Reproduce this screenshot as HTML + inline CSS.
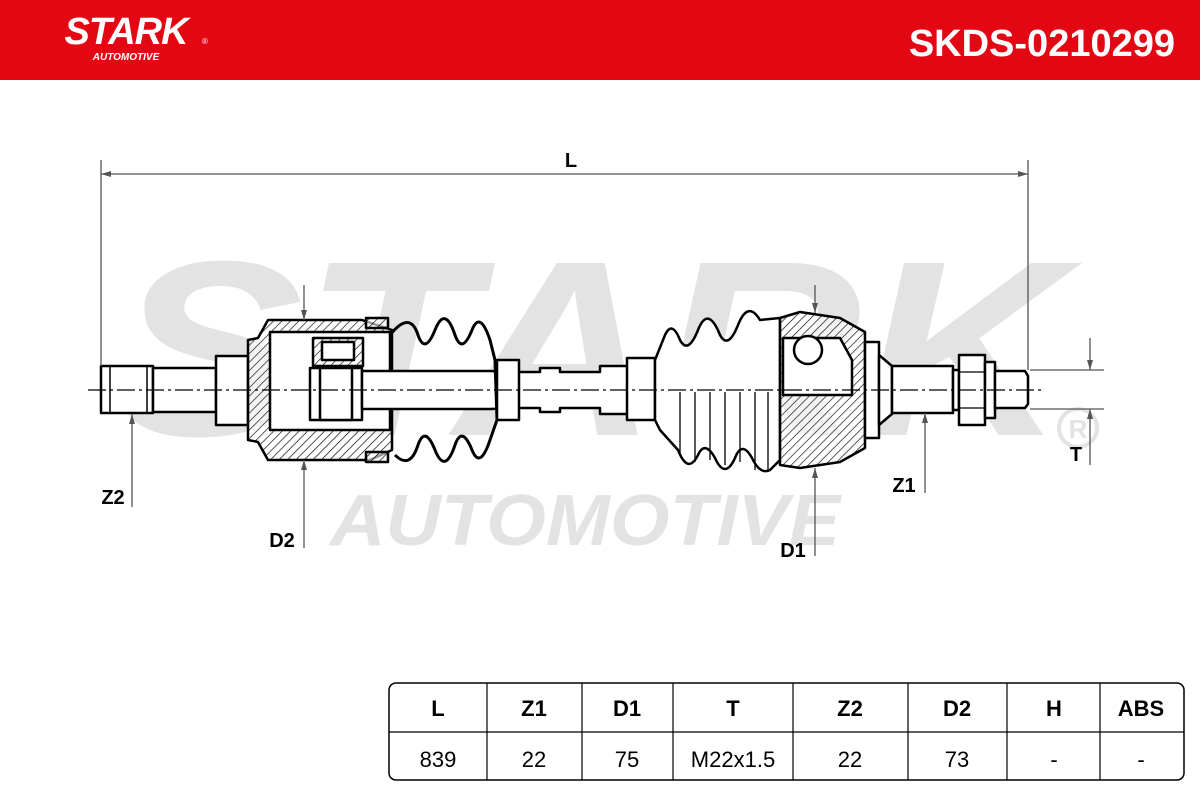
<!DOCTYPE html>
<html><head><meta charset="utf-8"><style>
html,body{margin:0;padding:0;background:#fff;}
body{width:1200px;height:800px;overflow:hidden;position:relative;font-family:"Liberation Sans",sans-serif;}
</style></head><body>
<svg width="1200" height="800" viewBox="0 0 1200 800" xmlns="http://www.w3.org/2000/svg" font-family="Liberation Sans, sans-serif">
<defs>
<pattern id="h" width="6" height="6" patternUnits="userSpaceOnUse" patternTransform="rotate(45)">
<rect width="6" height="6" fill="#fff" fill-opacity="0.6"/><line x1="0" y1="0" x2="0" y2="6" stroke="#000" stroke-width="1.3"/></pattern>
</defs>
<rect x="0" y="0" width="1200" height="80" fill="#e30613"/>
<text x="126" y="44" fill="#fff" font-size="38" font-weight="bold" font-style="italic" text-anchor="middle" letter-spacing="-1">STARK</text>
<text x="202" y="44" fill="#fff" font-size="8">®</text>
<text x="126" y="60" fill="#fff" font-size="10" font-weight="bold" font-style="italic" text-anchor="middle">AUTOMOTIVE</text>
<text x="1175" y="56" fill="#fff" font-size="38" font-weight="bold" text-anchor="end">SKDS-0210299</text>

<!-- watermark -->
<text x="590" y="435" fill="#e3e3e3" font-size="250" font-weight="bold" font-style="italic" text-anchor="middle" textLength="950" lengthAdjust="spacingAndGlyphs">STARK</text>
<text x="585" y="545" fill="#e3e3e3" font-size="72" font-weight="bold" font-style="italic" text-anchor="middle" textLength="510" lengthAdjust="spacingAndGlyphs">AUTOMOTIVE</text>
<circle cx="1078" cy="428" r="19" fill="none" stroke="#e3e3e3" stroke-width="4"/>
<text x="1078" y="438" fill="#e3e3e3" font-size="26" font-weight="bold" text-anchor="middle">R</text>

<g stroke="#000" stroke-width="2.5" fill="#fff" stroke-linejoin="round">
<!-- left stub -->
<rect x="101" y="366" width="52" height="47"/>
<line x1="110" y1="367" x2="110" y2="412" stroke-width="1.5"/>
<line x1="147" y1="367" x2="147" y2="412" stroke-width="1.5"/>
<rect x="153" y="368" width="63" height="44"/>
<rect x="216" y="356" width="32" height="69"/>
<!-- left housing -->
<path d="M248 340 L258 338 L268 320 L362 320 L392 330 L392 450 L370 460 L268 460 L258 442 L248 440 Z" fill="url(#h)"/>
<path d="M270 332 L390 332 L390 430 L270 430 Q270 430 270 415 L270 345 Z" fill="#fff"/>
<!-- spider -->
<rect x="313" y="338" width="50" height="28" fill="url(#h)"/>
<rect x="322" y="342" width="32" height="18"/>
<rect x="310" y="368" width="52" height="52"/>
<rect x="320" y="368" width="32" height="52" fill="#fff"/>
<!-- center shaft -->
<path d="M362 371 L490 371 L520 372 L540 372 L540 368 L560 368 L560 372 L600 372 L600 366 L630 366 L630 414 L600 414 L600 408 L560 408 L560 412 L540 412 L540 408 L520 408 L490 409 L362 409 Z"/>
<!-- left boot -->
<path d="M390 335 Q410 310 418 335 Q425 355 435 330 Q445 305 455 335 Q462 355 472 330 Q480 310 490 340 L495 360 L497 420 L490 440 Q480 470 472 450 Q462 425 455 445 Q445 475 435 450 Q425 425 418 445 Q410 470 395 455" fill="none" stroke-width="3"/>
<rect x="497" y="360" width="22" height="60"/>
<rect x="366" y="318" width="22" height="10" fill="url(#h)"/>
<rect x="366" y="452" width="22" height="10" fill="url(#h)"/>
<!-- right bands -->
<rect x="627" y="358" width="28" height="62"/>
<!-- right boot -->
<path d="M655 360 L665 335 Q672 320 680 340 Q688 355 698 330 Q708 305 720 335 Q728 350 738 325 Q748 300 760 320 L780 318 L780 460 L770 470 Q760 475 752 458 Q742 440 735 458 Q725 480 715 458 Q705 440 698 455 Q688 475 678 450 L660 430 L655 420 Z"/>
<g stroke-width="1.3"><line x1="680" y1="392" x2="680" y2="455"/><line x1="695" y1="392" x2="695" y2="462"/><line x1="710" y1="392" x2="710" y2="460"/><line x1="725" y1="392" x2="725" y2="465"/><line x1="740" y1="392" x2="740" y2="462"/><line x1="755" y1="392" x2="755" y2="470"/><line x1="768" y1="392" x2="768" y2="470"/></g>
<!-- outer joint -->
<path d="M780 318 L800 312 L840 318 L865 332 L865 448 L840 462 L800 468 L780 465 Z" fill="url(#h)"/>
<path d="M783 338 L840 338 L852 360 L852 395 L783 395 Z" fill="#fff"/>
<circle cx="808" cy="350" r="14"/>
<rect x="865" y="342" width="14" height="96"/>
<path d="M879 355 L892 366 L892 414 L879 425 Z"/>
<rect x="892" y="366" width="61" height="47"/>
<rect x="953" y="370" width="6" height="40"/>
<rect x="959" y="355" width="26" height="70"/>
<line x1="959" y1="372" x2="985" y2="372" stroke-width="1.3"/><line x1="959" y1="408" x2="985" y2="408" stroke-width="1.3"/>
<rect x="985" y="362" width="10" height="56"/>
<path d="M995 371 L1025 371 L1028 376 L1028 404 L1025 408 L995 408 Z"/>
</g>
<!-- centerline -->
<line x1="88" y1="390" x2="1045" y2="390" stroke="#000" stroke-width="1.2" stroke-dasharray="18,4,3,4"/>

<!-- dimensions -->
<g stroke="#555" stroke-width="1.3" fill="none">
<line x1="101" y1="160" x2="101" y2="366"/><line x1="1028" y1="160" x2="1028" y2="370"/>
<line x1="101" y1="174" x2="1028" y2="174"/>
<line x1="304" y1="285" x2="304" y2="320"/><line x1="304" y1="460" x2="304" y2="548"/>
<line x1="815" y1="285" x2="815" y2="313"/><line x1="815" y1="468" x2="815" y2="556"/>
<line x1="132" y1="414" x2="132" y2="507"/>
<line x1="925" y1="413" x2="925" y2="493"/>
<line x1="1030" y1="370" x2="1104" y2="370"/><line x1="1030" y1="409" x2="1104" y2="409"/>
<line x1="1090" y1="338" x2="1090" y2="370"/><line x1="1090" y1="409" x2="1090" y2="465"/>
</g>
<g fill="#555">
<path d="M101 174 l10 -3 v6z"/><path d="M1028 174 l-10 -3 v6z"/>
<path d="M304 320 l-3 -10 h6z"/><path d="M304 460 l-3 10 h6z"/>
<path d="M815 313 l-3 -10 h6z"/><path d="M815 468 l-3 10 h6z"/>
<path d="M132 414 l-3 10 h6z"/><path d="M925 413 l-3 10 h6z"/>
<path d="M1090 370 l-3 -10 h6z"/><path d="M1090 409 l-3 10 h6z"/>
</g>
<g font-size="20" font-weight="bold" fill="#000" text-anchor="middle">
<text x="571" y="167">L</text>
<text x="282" y="547">D2</text>
<text x="793" y="557">D1</text>
<text x="113" y="504">Z2</text>
<text x="904" y="492">Z1</text>
<text x="1076" y="461">T</text>
</g>

<!-- table -->
<rect x="389" y="683" width="795" height="97" rx="7" fill="#fff" stroke="#000" stroke-width="1.5"/>
<line x1="389" y1="732" x2="1184" y2="732" stroke="#000" stroke-width="1.2"/>
<g stroke="#000" stroke-width="1.2">
<line x1="487" y1="683" x2="487" y2="780"/><line x1="582" y1="683" x2="582" y2="780"/><line x1="673" y1="683" x2="673" y2="780"/><line x1="793" y1="683" x2="793" y2="780"/><line x1="908" y1="683" x2="908" y2="780"/><line x1="1007" y1="683" x2="1007" y2="780"/><line x1="1100" y1="683" x2="1100" y2="780"/>
</g>
<g font-size="22" font-weight="bold" text-anchor="middle" fill="#000">
<text x="438" y="716">L</text><text x="534" y="716">Z1</text><text x="627" y="716">D1</text><text x="733" y="716">T</text><text x="850" y="716">Z2</text><text x="957" y="716">D2</text><text x="1054" y="716">H</text><text x="1141" y="716">ABS</text>
</g>
<g font-size="22" text-anchor="middle" fill="#000">
<text x="438" y="767">839</text><text x="534" y="767">22</text><text x="627" y="767">75</text><text x="733" y="767">M22x1.5</text><text x="850" y="767">22</text><text x="957" y="767">73</text><text x="1054" y="767">-</text><text x="1141" y="767">-</text>
</g>
</svg>
</body></html>
